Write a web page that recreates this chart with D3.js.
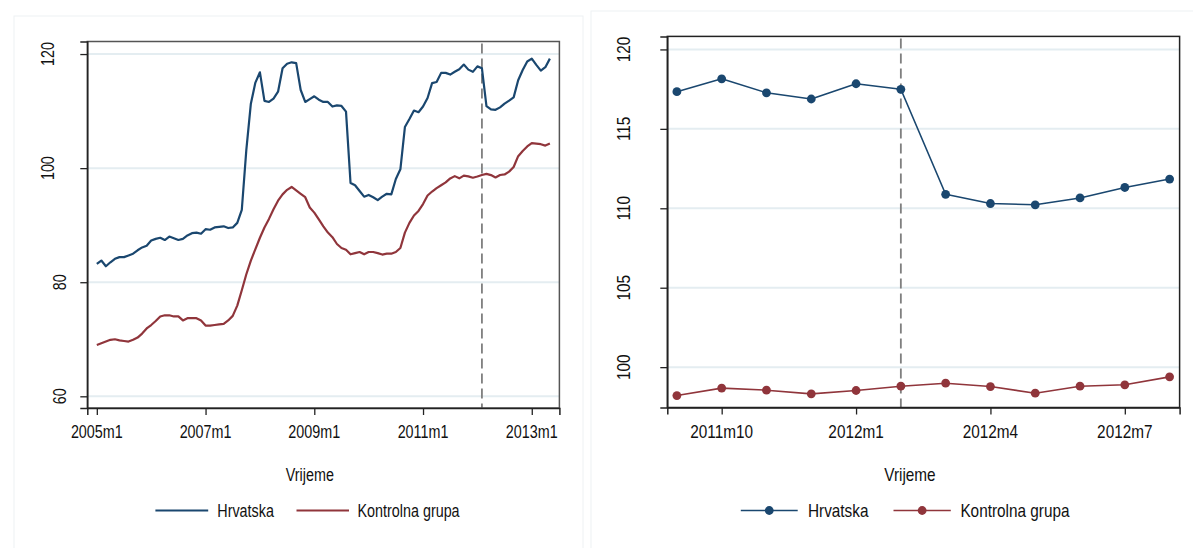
<!DOCTYPE html>
<html>
<head>
<meta charset="utf-8">
<script src="https://cdn.jsdelivr.net/npm/d3@7"></script>
<style>
  html, body { margin: 0; padding: 0; background: #ffffff; }
  svg { display: block; }
</style>
</head>
<body>
<svg id="chart" width="1193" height="548"></svg>
<script>
// ---- Data -------------------------------------------------------------
// Monthly index, 2005m1 .. 2013m5
const periodStart = "2005m1";
const hrvatskaMonthly = [
  83.2, 83.8, 82.8, 83.5, 84.1, 84.4, 84.4, 84.7, 85.0, 85.6,
  86.1, 86.4, 87.3, 87.6, 87.8, 87.4, 88.0, 87.7, 87.4, 87.6,
  88.2, 88.6, 88.7, 88.5, 89.3, 89.2, 89.6, 89.7, 89.8, 89.5,
  89.6, 90.4, 92.7, 103.2, 111.3, 115.0, 116.8, 111.8, 111.6, 112.2,
  113.4, 117.5, 118.3, 118.55, 118.4, 113.7, 111.6, 112.1, 112.6, 112.0,
  111.6, 111.6, 110.8, 111.0, 110.9, 109.9, 97.4, 97.0, 96.0, 95.0,
  95.3, 94.9, 94.4, 95.0, 95.5, 95.4, 98.1, 99.8, 107.2, 108.6,
  110.1, 109.8, 110.8, 112.3, 114.9, 115.1, 116.7, 116.7, 116.4, 116.9,
  117.34, 118.15, 117.27, 116.88, 117.84, 117.49, 110.88, 110.30, 110.22, 110.65,
  111.31, 111.84, 112.4, 115.4, 117.2, 118.7, 119.2, 118.1, 117.1, 117.7,
  119.2
];
const kontrolnaMonthly = [
  69.0, 69.3, 69.6, 69.9, 70.0, 69.8, 69.7, 69.6, 69.9, 70.3,
  71.0, 71.9, 72.5, 73.2, 74.0, 74.2, 74.2, 74.0, 74.0, 73.3,
  73.7, 73.7, 73.7, 73.3, 72.4, 72.4, 72.5, 72.6, 72.7, 73.3,
  74.1, 75.9, 78.6, 81.4, 83.8, 85.8, 87.8, 89.6, 91.1, 92.8,
  94.3, 95.4, 96.2, 96.7, 96.1, 95.5, 94.9, 93.1, 92.2, 91.0,
  89.8, 88.7, 87.9, 86.7, 86.0, 85.7, 84.9, 85.1, 85.3, 84.9,
  85.3, 85.3, 85.1, 84.85, 85.0, 85.0, 85.3, 86.0, 88.7, 90.4,
  91.7, 92.5, 93.7, 95.2, 95.9, 96.5, 97.0, 97.5, 98.2, 98.6,
  98.21, 98.68, 98.55, 98.32, 98.53, 98.80, 98.99, 98.78, 98.36, 98.80,
  98.89, 99.39, 100.2, 102.1, 103.0, 103.8, 104.4, 104.3, 104.2, 103.95,
  104.3
];
const leftTickLabels = ["2005m1", "2007m1", "2009m1", "2011m1", "2013m1"];
const leftYTicks = [60, 80, 100, 120];

// Detail window, 2011m9 .. 2012m8
const zoomStart = "2011m9";
const hrvatskaZoom  = [117.34, 118.15, 117.27, 116.88, 117.84, 117.49, 110.88, 110.30, 110.22, 110.65, 111.31, 111.84];
const kontrolnaZoom = [98.21, 98.68, 98.55, 98.32, 98.53, 98.80, 98.99, 98.78, 98.36, 98.80, 98.89, 99.39];
const rightTickLabels = ["2011m10", "2012m1", "2012m4", "2012m7"];
const rightYTicks = [100, 105, 110, 115, 120];

const breakPeriod = "2012m2";
const seriesNames = ["Hrvatska", "Kontrolna grupa"];
const axisTitle = "Vrijeme";

// ---- Helpers ----------------------------------------------------------
const BLUE = "#1a476f", RED = "#90353b";

function monthIndex(label, start) {
  const p = s => { const [y, m] = s.split("m").map(Number); return y * 12 + (m - 1); };
  return p(label) - p(start);
}

// Condensed sans: use the narrow face when installed, otherwise squeeze the regular one.
const FONT = (() => {
  const ctx = document.createElement("canvas").getContext("2d");
  const probe = "2005m1 Hrvatska Kontrolna";
  ctx.font = "40px monospace";
  const a = ctx.measureText(probe).width;
  ctx.font = "40px 'Liberation Sans Narrow', monospace";
  const b = ctx.measureText(probe).width;
  return Math.abs(a - b) > 0.5
    ? { family: "'Liberation Sans Narrow', 'Liberation Sans', Arial, sans-serif", sx: 1 }
    : { family: "'Liberation Sans', Arial, sans-serif", sx: 0.82 };
})();

function label(g, x, y, text, size, opts = {}) {
  const rot = opts.rotate || 0;
  const t = g.append("g")
    .attr("transform", `translate(${x},${y}) rotate(${rot}) scale(${FONT.sx},1)`);
  t.append("text")
    .attr("x", 0).attr("y", 0)
    .attr("text-anchor", opts.anchor || "start")
    .attr("font-family", FONT.family)
    .attr("font-size", size)
    .attr("fill", "#111")
    .text(text);
}

const svg = d3.select("#chart");

// faint outlines of the two graph regions
svg.append("rect").attr("x", 14).attr("y", 16).attr("width", 569).attr("height", 560)
  .attr("fill", "none").attr("stroke", "#eef1f3").attr("stroke-width", 1);
svg.append("rect").attr("x", 591).attr("y", 11).attr("width", 620).attr("height", 560)
  .attr("fill", "none").attr("stroke", "#eef1f3").attr("stroke-width", 1);

function drawPanel(cfg) {
  const g = svg.append("g");
  const x = d3.scaleLinear().domain(cfg.xDomain).range([cfg.x0, cfg.x1]);
  const y = d3.scaleLinear().domain(cfg.yDomain).range([cfg.y1, cfg.y0]);

  // grid
  g.append("g").selectAll("line").data(cfg.yTicks).join("line")
    .attr("x1", cfg.x0).attr("x2", cfg.x1)
    .attr("y1", d => y(d)).attr("y2", d => y(d))
    .attr("stroke", "#e4edf1").attr("stroke-width", 2);

  // break marker
  const bx = x(monthIndex(breakPeriod, cfg.start));
  g.append("line")
    .attr("x1", bx).attr("x2", bx).attr("y1", cfg.y0 + 2).attr("y2", cfg.y1)
    .attr("stroke", "#7f7f7f").attr("stroke-width", 1.8)
    .attr("stroke-dasharray", "10,5");

  // series
  const line = d3.line().x((d, i) => x(i)).y(d => y(d));
  [[cfg.series[0], BLUE], [cfg.series[1], RED]].forEach(([vals, col]) => {
    g.append("path").datum(vals)
      .attr("d", line).attr("fill", "none")
      .attr("stroke", col).attr("stroke-width", cfg.lineWidth)
      .attr("stroke-linejoin", "round");
    if (cfg.markers) {
      g.append("g").selectAll("circle").data(vals).join("circle")
        .attr("cx", (d, i) => x(i)).attr("cy", d => y(d))
        .attr("r", cfg.markerR).attr("fill", col);
    }
  });

  // frame
  g.append("rect")
    .attr("x", cfg.x0).attr("y", cfg.y0)
    .attr("width", cfg.x1 - cfg.x0).attr("height", cfg.y1 - cfg.y0)
    .attr("fill", "none").attr("stroke", cfg.frameColor).attr("stroke-width", 1.5);

  // y axis
  const yAxis = d3.axisLeft(y).tickValues(cfg.yTicks).tickSize(7).tickFormat("");
  const ya = g.append("g").attr("transform", `translate(${cfg.x0},0)`).call(yAxis);
  ya.select(".domain").attr("stroke", "#222").attr("stroke-width", 1.5);
  ya.selectAll(".tick line").attr("stroke", "#222").attr("stroke-width", 1.3);
  const capH = cfg.fontSize * 0.716;
  cfg.yTicks.forEach(v => {
    const txt = String(v);
    const cx = cfg.x0 - cfg.yLabelOffset(txt);
    label(g, cx + capH / 2, y(v), txt, cfg.fontSize, { rotate: -90, anchor: "middle" });
  });

  // x axis
  const xt = cfg.xTickLabels.map(s => monthIndex(s, cfg.start));
  const xAxis = d3.axisBottom(x).tickValues(xt).tickSize(7).tickFormat("");
  const xa = g.append("g").attr("transform", `translate(0,${cfg.y1})`).call(xAxis);
  xa.select(".domain").attr("stroke", "#222").attr("stroke-width", 1.5);
  xa.selectAll(".tick line").attr("stroke", "#222").attr("stroke-width", 1.3);
  cfg.xTickLabels.forEach((s, i) => {
    label(g, x(xt[i]), cfg.xLabelBaseline, s, cfg.fontSize, { anchor: "middle" });
  });

  // axis title
  label(g, (cfg.x0 + cfg.x1) / 2 - 13.5, cfg.titleBaseline, axisTitle, cfg.fontSize, { anchor: "middle" });

  // legend
  const ly = cfg.legendY;
  cfg.legend.forEach((it, i) => {
    const col = i === 0 ? BLUE : RED;
    g.append("line").attr("x1", it.l0).attr("x2", it.l1).attr("y1", ly).attr("y2", ly)
      .attr("stroke", col).attr("stroke-width", cfg.lineWidth);
    if (cfg.markers) {
      g.append("circle").attr("cx", (it.l0 + it.l1) / 2).attr("cy", ly)
        .attr("r", cfg.markerR).attr("fill", col);
    }
    label(g, it.tx, ly + capH / 2, seriesNames[i], cfg.fontSize);
  });
}

// Full period
drawPanel({
  start: periodStart,
  x0: 87.3, x1: 559.4, y0: 41.5, y1: 408,
  xDomain: [-2.1, 102.1], yDomain: [57.95, 122.2],
  yTicks: leftYTicks, xTickLabels: leftTickLabels,
  series: [hrvatskaMonthly, kontrolnaMonthly],
  lineWidth: 2.2, markers: false,
  frameColor: "#555",
  fontSize: 17.5,
  yLabelOffset: t => (t.length > 2 ? 39.3 : 27.8),
  xLabelBaseline: 437.5, titleBaseline: 481,
  legendY: 510.5,
  legend: [{ l0: 155.4, l1: 208.2, tx: 217.3 }, { l0: 296.5, l1: 349, tx: 357.5 }]
});

// Detail window around the break
drawPanel({
  start: zoomStart,
  x0: 667.3, x1: 1179.6, y0: 36.4, y1: 407.5,
  xDomain: [-0.214, 11.223], yDomain: [97.46, 120.82],
  yTicks: rightYTicks, xTickLabels: rightTickLabels,
  series: [hrvatskaZoom, kontrolnaZoom],
  lineWidth: 1.6, markers: true, markerR: 4.4,
  frameColor: "#222",
  fontSize: 18.7,
  yLabelOffset: () => 43.6,
  xLabelBaseline: 437.5, titleBaseline: 481,
  legendY: 510.5,
  legend: [{ l0: 740.8, l1: 797.7, tx: 808 }, { l0: 893.5, l1: 950.8, tx: 960.4 }]
});
</script>
</body>
</html>
